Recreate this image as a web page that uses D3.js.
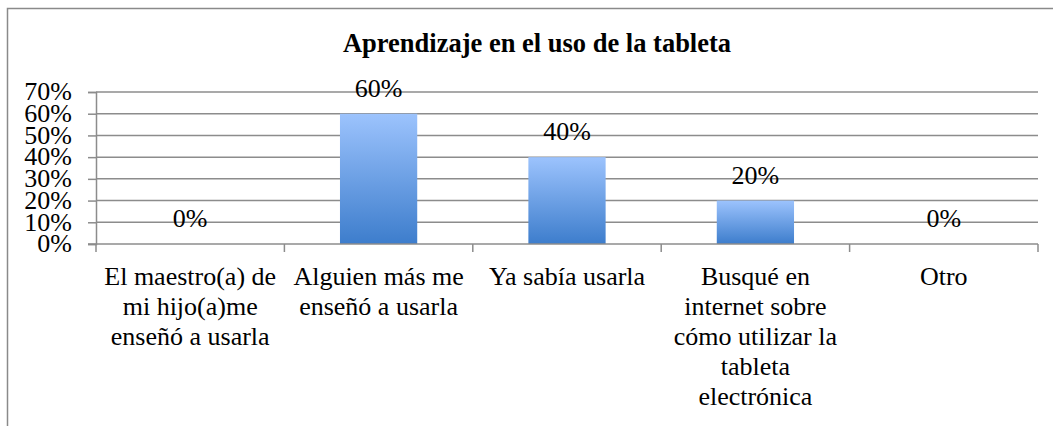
<!DOCTYPE html>
<html>
<head>
<meta charset="utf-8">
<script src="https://cdn.jsdelivr.net/npm/d3@7"></script>
</head>
<body style="margin:0; background:#fff">
<div id="chart"></div>
<script>
var svgWidth = 1053;
var svgHeight = 426;
var FONT = "Liberation Serif";

var categories = [
  ["El maestro(a) de", "mi hijo(a)me", "enseñó a usarla"],
  ["Alguien más me", "enseñó a usarla"],
  ["Ya sabía usarla"],
  ["Busqué en", "internet sobre", "cómo utilizar la", "tableta", "electrónica"],
  ["Otro"]
];
var values = [0, 0.6, 0.4, 0.2, 0];
var yTicks = [0, 0.1, 0.2, 0.3, 0.4, 0.5, 0.6, 0.7];

var margin = { top: 92, right: 15, bottom: 182, left: 96 };
var width = svgWidth - margin.left - margin.right;
var height = svgHeight - margin.top - margin.bottom;

var svg = d3.select("#chart")
  .append("svg")
  .attr("width", svgWidth)
  .attr("height", svgHeight)
  .attr("font-family", FONT);

// gradient for bars
var grad = svg.append("defs").append("linearGradient")
  .attr("id", "barGrad")
  .attr("x1", 0).attr("y1", 0).attr("x2", 0).attr("y2", 1);
grad.append("stop").attr("offset", "0%").attr("stop-color", "#9cc3fd");
grad.append("stop").attr("offset", "100%").attr("stop-color", "#3d7dcc");

// outer frame (left + top only visible)
svg.append("path")
  .attr("d", "M7.5," + svgHeight + " V8.5 H" + svgWidth)
  .attr("fill", "none")
  .attr("stroke", "#8a8a8a")
  .attr("stroke-width", 1.5);

svg.append("text")
  .attr("x", 537)
  .attr("y", 52)
  .attr("text-anchor", "middle")
  .attr("font-family", FONT)
  .attr("font-size", 26.5)
  .attr("font-weight", "bold")
  .text("Aprendizaje en el uso de la tableta");

var chartGroup = svg.append("g")
  .attr("transform", `translate(${margin.left}, ${margin.top})`);

var x = d3.scaleBand()
  .domain(d3.range(categories.length))
  .range([0, width])
  .paddingInner(0.59)
  .paddingOuter(0.295);

var xCat = d3.scaleBand()
  .domain(d3.range(categories.length))
  .range([0, width]);

var y = d3.scaleLinear()
  .domain([0, 0.7])
  .range([height, 0]);

// gridlines
chartGroup.selectAll(".grid")
  .data(yTicks.slice(1))
  .enter()
  .append("line")
  .attr("x1", 0)
  .attr("x2", width)
  .attr("y1", d => y(d))
  .attr("y2", d => y(d))
  .attr("stroke", "#8c8c8c")
  .attr("stroke-width", 1.5);

// y axis
var leftAxis = d3.axisLeft(y)
  .tickValues(yTicks)
  .tickFormat(d3.format(".0%"))
  .tickSize(8)
  .tickPadding(16);

var yAxis = chartGroup.append("g").call(leftAxis);
yAxis.attr("font-family", FONT).attr("font-size", 26);
yAxis.select(".domain").attr("stroke", "#8c8c8c").attr("stroke-width", 1.5);
yAxis.selectAll(".tick line").attr("stroke", "#8c8c8c").attr("stroke-width", 1.5);
yAxis.selectAll(".tick text")
  .attr("fill", "#000")
  .attr("dy", "0.3em");

// bars
chartGroup.selectAll(".bar")
  .data(values)
  .enter()
  .append("rect")
  .attr("x", (d, i) => x(i))
  .attr("y", d => y(d))
  .attr("width", x.bandwidth())
  .attr("height", d => height - y(d))
  .attr("fill", "url(#barGrad)");

// x axis
var xAxisG = chartGroup.append("g")
  .attr("transform", `translate(0, ${height})`);
xAxisG.append("line")
  .attr("x1", -8).attr("x2", width)
  .attr("stroke", "#8c8c8c").attr("stroke-width", 1.5);
xAxisG.selectAll(".xtick")
  .data(d3.range(categories.length + 1))
  .enter()
  .append("line")
  .attr("x1", d => d * xCat.bandwidth())
  .attr("x2", d => d * xCat.bandwidth())
  .attr("y1", 0)
  .attr("y2", 8)
  .attr("stroke", "#8c8c8c")
  .attr("stroke-width", 1.5);

// category labels
var catLabels = xAxisG.selectAll(".cat")
  .data(categories)
  .enter()
  .append("text")
  .attr("text-anchor", "middle")
  .attr("font-family", FONT)
  .attr("font-size", 26);
catLabels.selectAll("tspan")
  .data((d, i) => d.map(line => ({ line: line, i: i })))
  .enter()
  .append("tspan")
  .attr("x", d => xCat(d.i) + xCat.bandwidth() / 2)
  .attr("y", (d, j) => 41 + j * 30)
  .text(d => d.line);

// value labels
chartGroup.selectAll(".val")
  .data(values)
  .enter()
  .append("text")
  .attr("x", (d, i) => x(i) + x.bandwidth() / 2)
  .attr("y", d => y(d) - 17)
  .attr("text-anchor", "middle")
  .attr("font-family", FONT)
  .attr("font-size", 26)
  .text(d => d3.format(".0%")(d));
</script>
</body>
</html>
